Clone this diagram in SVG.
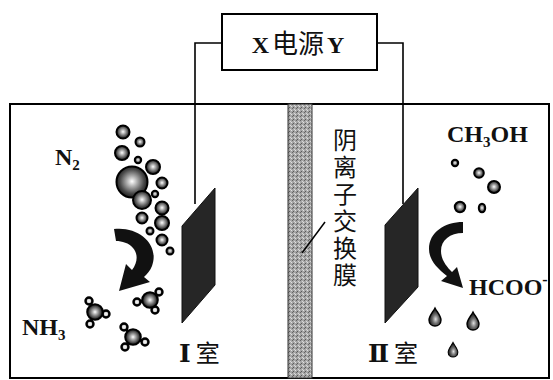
<svg xmlns="http://www.w3.org/2000/svg" width="553" height="380" viewBox="0 0 553 380">
  <defs>
    <style>
      .line { fill: none; stroke: #000; stroke-width: 2; }
      .wire { fill: none; stroke: #000; stroke-width: 1.6; }
      .lbl { font-family: "Liberation Serif", "Times New Roman", serif; font-size: 24px; font-weight: bold; fill: #111; }
      .num { font-family: "DejaVu Serif", "Liberation Serif", serif; font-size: 25px; font-weight: bold; fill: #111; }
      .cn { font-family: "Noto Sans CJK SC", "Liberation Serif", sans-serif; fill: #111; }
      .ball { fill: url(#ballGrad); stroke: #000; stroke-width: 2; }
      .atom { fill: url(#atomGrad); stroke: #000; stroke-width: 2; }
      .hyd { fill: url(#hydGrad); stroke: #000; stroke-width: 2.4; }
      .bond { stroke: #000; stroke-width: 3; }
      .drop { fill: url(#dropGrad); stroke: #000; stroke-width: 1.4; }
      .electrode { fill: #262626; stroke: #111; stroke-width: 1; }
    </style>
    <radialGradient id="ballGrad" cx="0.5" cy="0.48" r="0.55">
      <stop offset="0" stop-color="#ffffff"/>
      <stop offset="0.3" stop-color="#b0b0b0"/>
      <stop offset="0.7" stop-color="#4a4a4a"/>
      <stop offset="1" stop-color="#111"/>
    </radialGradient>
    <radialGradient id="atomGrad" cx="0.5" cy="0.5" r="0.55">
      <stop offset="0" stop-color="#ffffff"/>
      <stop offset="0.3" stop-color="#aaa"/>
      <stop offset="0.75" stop-color="#333"/>
      <stop offset="1" stop-color="#111"/>
    </radialGradient>
    <radialGradient id="hydGrad" cx="0.5" cy="0.5" r="0.5">
      <stop offset="0" stop-color="#fff"/>
      <stop offset="0.6" stop-color="#ccc"/>
      <stop offset="1" stop-color="#555"/>
    </radialGradient>
    <radialGradient id="dropGrad" cx="0.55" cy="0.62" r="0.55">
      <stop offset="0" stop-color="#e0e0e0"/>
      <stop offset="0.45" stop-color="#707070"/>
      <stop offset="1" stop-color="#111"/>
    </radialGradient>
    <pattern id="stipple" width="4" height="4" patternUnits="userSpaceOnUse">
      <rect width="4" height="4" fill="#a6a6a6"/>
      <rect x="0" y="0" width="1" height="1" fill="#666"/>
      <rect x="2" y="1" width="1" height="1" fill="#d8d8d8"/>
      <rect x="1" y="3" width="1" height="1" fill="#5a5a5a"/>
      <rect x="3" y="2" width="1" height="1" fill="#e0e0e0"/>
    </pattern>
    <path id="droplet" d="M0,-8 C2,-4 6,0 6,4 C6,8 3,10 0,10 C-3,10 -6,8 -6,4 C-6,0 -2,-4 0,-8 Z"/>
  </defs>

  <!-- electrolytic cell -->
  <g id="cell">
    <rect class="line" x="10" y="104" width="539" height="274"/>
  </g>

  <!-- anion exchange membrane -->
  <g id="membrane">
    <rect x="288" y="104" width="24" height="274" fill="url(#stipple)" stroke="#333" stroke-width="1"/>
    <line x1="302" y1="253" x2="325" y2="222" stroke="#000" stroke-width="1.5"/>
    <text class="cn" font-size="24" x="345" y="128" writing-mode="tb" letter-spacing="3">阴离子交换膜</text>
  </g>

  <!-- power supply -->
  <g id="power">
    <rect x="222" y="14" width="155" height="56" fill="#fff" stroke="#000" stroke-width="2"/>
    <text x="298" y="53" text-anchor="middle"><tspan class="lbl" font-size="26">X</tspan><tspan class="cn" font-size="26" dx="3">电源</tspan><tspan class="lbl" font-size="26" dx="3">Y</tspan></text>
  </g>

  <!-- wiring -->
  <g id="connectors">
    <polyline class="wire" points="222,43 195,43 195,204"/>
    <polyline class="wire" points="377,43 403,43 403,204"/>
  </g>

  <!-- chamber I electrode -->
  <g id="electrode-1">
    <polygon class="electrode" points="182,226 215,188 215,285 182,323"/>
  </g>

  <!-- chamber II electrode -->
  <g id="electrode-2">
    <polygon class="electrode" points="385,225 418,188 418,287 385,323"/>
  </g>

  <!-- chamber I: N2 bubbles, arrow, NH3 -->
  <g id="chamber-1">
    <text class="lbl" x="55" y="165">N<tspan font-size="15" dy="5">2</tspan></text>
    <g id="n2-bubbles">
      <circle class="ball" cx="123" cy="132" r="6.5"/>
      <circle class="ball" cx="140" cy="142" r="4.5"/>
      <circle class="ball" cx="122" cy="153" r="7"/>
      <circle class="ball" cx="138" cy="160" r="3.2"/>
      <circle class="ball" cx="153" cy="167" r="7"/>
      <circle class="ball" cx="132" cy="182" r="15.5"/>
      <circle class="ball" cx="162" cy="183" r="5.5"/>
      <circle class="ball" cx="155" cy="194" r="3.2"/>
      <circle class="ball" cx="142" cy="200" r="9"/>
      <circle class="ball" cx="162" cy="208" r="6.5"/>
      <circle class="ball" cx="142" cy="218" r="5.5"/>
      <circle class="ball" cx="162" cy="223" r="7"/>
      <circle class="ball" cx="150" cy="231" r="3.5"/>
      <circle class="ball" cx="162" cy="240" r="5.5"/>
      <circle class="ball" cx="170" cy="251" r="3.5"/>
    </g>
    <path id="arrow-1" d="M114,229 C138,226 160,244 152,266 C150,271 147,274 144,277 L150,282 L119,291 L126,264 L132,270 C138,262 138,254 133,248 C129,243 122,241 116,241 Z" fill="#111"/>
    <g id="nh3-a">
      <line class="bond" x1="150" y1="300" x2="137" y2="302"/>
      <line class="bond" x1="150" y1="300" x2="159" y2="292"/>
      <line class="bond" x1="150" y1="300" x2="155" y2="310"/>
      <circle class="hyd" cx="137" cy="302" r="3.5"/>
      <circle class="hyd" cx="159" cy="292" r="3.5"/>
      <circle class="hyd" cx="155" cy="310" r="3.5"/>
      <circle class="atom" cx="150" cy="300" r="7.8"/>
    </g>
    <g id="nh3-b">
      <line class="bond" x1="95" y1="312" x2="89" y2="301"/>
      <line class="bond" x1="95" y1="312" x2="106" y2="314"/>
      <line class="bond" x1="95" y1="312" x2="90" y2="324"/>
      <circle class="hyd" cx="89" cy="301" r="3.5"/>
      <circle class="hyd" cx="106" cy="314" r="3.5"/>
      <circle class="hyd" cx="90" cy="324" r="3.5"/>
      <circle class="atom" cx="95" cy="312" r="7.8"/>
    </g>
    <g id="nh3-c">
      <line class="bond" x1="133" y1="337" x2="124" y2="327"/>
      <line class="bond" x1="133" y1="337" x2="145" y2="342"/>
      <line class="bond" x1="133" y1="337" x2="125" y2="347"/>
      <circle class="hyd" cx="124" cy="327" r="3.5"/>
      <circle class="hyd" cx="145" cy="342" r="3.5"/>
      <circle class="hyd" cx="125" cy="347" r="3.5"/>
      <circle class="atom" cx="133" cy="337" r="7.8"/>
    </g>
    <text class="lbl" x="22" y="335">NH<tspan font-size="15" dy="5">3</tspan></text>
    <text x="179" y="362"><tspan class="num">Ⅰ</tspan><tspan class="cn" font-size="24" dx="5">室</tspan></text>
  </g>

  <!-- chamber II: CH3OH, arrow, HCOO- -->
  <g id="chamber-2">
    <text class="lbl" x="447" y="142">CH<tspan font-size="15" dy="5">3</tspan><tspan dy="-5">OH</tspan></text>
    <circle class="ball" cx="455" cy="163" r="3.2"/>
    <circle class="ball" cx="479" cy="173" r="4.8"/>
    <circle class="ball" cx="494" cy="187" r="6"/>
    <circle class="ball" cx="460" cy="207" r="5.2"/>
    <ellipse class="ball" cx="482" cy="208" rx="3.2" ry="4.3"/>
    <path id="arrow-2" d="M463,222 L463,233 C450,233 441,240 441,251 C441,260 447,267 452,272 L457,267 L463,288 L441,281 L447,276 C437,268 429,260 429,249 C429,232 445,222 463,222 Z" fill="#111"/>
    <text class="lbl" x="469" y="295">HCOO<tspan font-size="16" dy="-10">-</tspan></text>
    <use href="#droplet" class="drop" x="435" y="316"/>
    <use href="#droplet" class="drop" x="473" y="320"/>
    <g transform="translate(453,349) scale(0.8)"><use href="#droplet" class="drop"/></g>
    <text x="368" y="362"><tspan class="num">Ⅱ</tspan><tspan class="cn" font-size="24" dx="5">室</tspan></text>
  </g>
</svg>
